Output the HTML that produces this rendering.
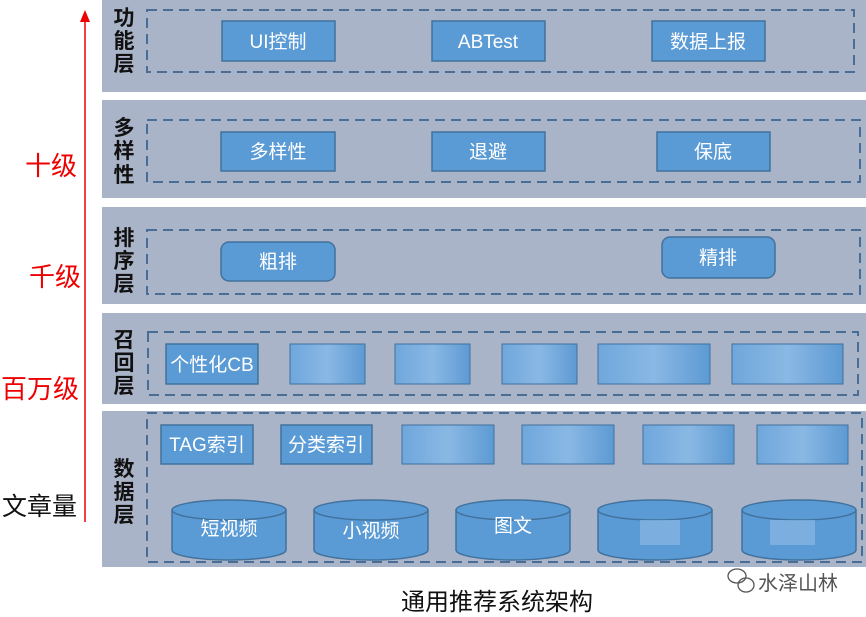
<!DOCTYPE html>
<html><head><meta charset="utf-8"><style>
html,body{margin:0;padding:0;background:#fff;}
svg{display:block;font-family:"Liberation Sans","Noto Sans CJK SC",sans-serif;}
</style></head><body>
<svg width="866" height="617" viewBox="0 0 866 617" xmlns="http://www.w3.org/2000/svg">
<defs>
<linearGradient id="bl" x1="0" x2="1"><stop offset="0" stop-color="#6fa7dc"/><stop offset="0.5" stop-color="#8ab8e4"/><stop offset="1" stop-color="#5d9ad3"/></linearGradient>
</defs>
<rect width="866" height="617" fill="#fff"/>
<g fill="#aab4c8">
<rect x="102" y="0" width="764" height="92"/>
<rect x="102" y="100" width="764" height="98"/>
<rect x="102" y="207" width="764" height="97"/>
<rect x="102" y="313" width="764" height="91"/>
<rect x="102" y="411" width="764" height="156"/>
</g>
<g fill="none" stroke="#4a6d95" stroke-width="2" stroke-dasharray="10,6">
<rect x="147" y="10" width="707" height="62"/>
<rect x="147" y="120" width="713" height="62"/>
<rect x="147" y="230" width="713" height="64"/>
<rect x="148" y="332" width="710" height="63"/>
<rect x="147" y="413" width="715" height="149"/>
</g>
<g font-size="21" font-weight="bold" fill="#111" text-anchor="middle">
<text x="124" y="25">功</text><text x="124" y="48">能</text><text x="124" y="71">层</text>
<text x="124" y="135">多</text><text x="124" y="158">样</text><text x="124" y="182">性</text>
<text x="124" y="245">排</text><text x="124" y="268">序</text><text x="124" y="291">层</text>
<text x="124" y="347">召</text><text x="124" y="370">回</text><text x="124" y="393">层</text>
<text x="124" y="476">数</text><text x="124" y="499">据</text><text x="124" y="522">层</text>
</g>
<g fill="#5b9bd5" stroke="#41719c" stroke-width="1.5">
<rect x="222" y="21" width="113" height="40"/>
<rect x="432" y="21" width="113" height="40"/>
<rect x="652" y="21" width="113" height="40"/>
<rect x="221" y="132" width="114" height="39"/>
<rect x="432" y="132" width="113" height="39"/>
<rect x="657" y="132" width="113" height="39"/>
<rect x="221" y="242" width="114" height="39" rx="8"/>
<rect x="662" y="237" width="113" height="41" rx="8"/>
<rect x="166" y="344" width="92" height="40"/>
<rect x="161" y="425" width="92" height="39"/>
<rect x="281" y="425" width="91" height="39"/>
</g>
<g fill="url(#bl)" stroke="#41719c" stroke-width="1">
<rect x="290" y="344" width="75" height="40"/>
<rect x="395" y="344" width="75" height="40"/>
<rect x="502" y="344" width="75" height="40"/>
<rect x="598" y="344" width="112" height="40"/>
<rect x="732" y="344" width="111" height="40"/>
<rect x="402" y="425" width="92" height="39"/>
<rect x="522" y="425" width="92" height="39"/>
<rect x="643" y="425" width="91" height="39"/>
<rect x="757" y="425" width="91" height="39"/>
</g>
<g stroke="#41719c" stroke-width="1.5" fill="#5b9bd5">
<path d="M172 510 V550 A57 10 0 0 0 286 550 V510"/>
<ellipse cx="229" cy="510" rx="57" ry="10"/>
<path d="M314 510 V550 A57 10 0 0 0 428 550 V510"/>
<ellipse cx="371" cy="510" rx="57" ry="10"/>
<path d="M456 510 V550 A57 10 0 0 0 570 550 V510"/>
<ellipse cx="513" cy="510" rx="57" ry="10"/>
<path d="M598 510 V550 A57 10 0 0 0 712 550 V510"/>
<ellipse cx="655" cy="510" rx="57" ry="10"/>
<path d="M742 510 V550 A57 10 0 0 0 856 550 V510"/>
<ellipse cx="799" cy="510" rx="57" ry="10"/>
</g>
<g fill="#8ab8e4" opacity="0.7"><rect x="640" y="520" width="40" height="25"/><rect x="770" y="520" width="45" height="25"/></g>
<g font-size="19" fill="#fff" text-anchor="middle">
<text x="278" y="48">UI控制</text>
<text x="488" y="48">ABTest</text>
<text x="708" y="48">数据上报</text>
<text x="278" y="158">多样性</text>
<text x="488" y="158">退避</text>
<text x="713" y="158">保底</text>
<text x="278" y="268">粗排</text>
<text x="718" y="264">精排</text>
<text x="212" y="371">个性化CB</text>
<text x="207" y="451">TAG索引</text>
<text x="326" y="451">分类索引</text>
<text x="229" y="535">短视频</text>
<text x="371" y="537">小视频</text>
<text x="513" y="532">图文</text>
</g>
<line x1="85" y1="522" x2="85" y2="20" stroke="#e00" stroke-width="1.5"/>
<polygon points="85,10 80,22 90,22" fill="#e00"/>
<g font-size="26" fill="#e00">
<text x="25" y="175">十级</text>
<text x="29" y="286">千级</text>
<text x="1" y="398">百万级</text>
</g>
<text x="2" y="515" font-size="25" fill="#111">文章量</text>
<text x="497" y="610" font-size="24" fill="#111" text-anchor="middle">通用推荐系统架构</text>
<g fill="none" stroke="#555" stroke-width="1.3"><ellipse cx="737" cy="576" rx="9" ry="7"/><ellipse cx="746" cy="585" rx="8" ry="7"/></g>
<text x="758" y="590" font-size="20" fill="#555">水泽山林</text>
</svg>
</body></html>
